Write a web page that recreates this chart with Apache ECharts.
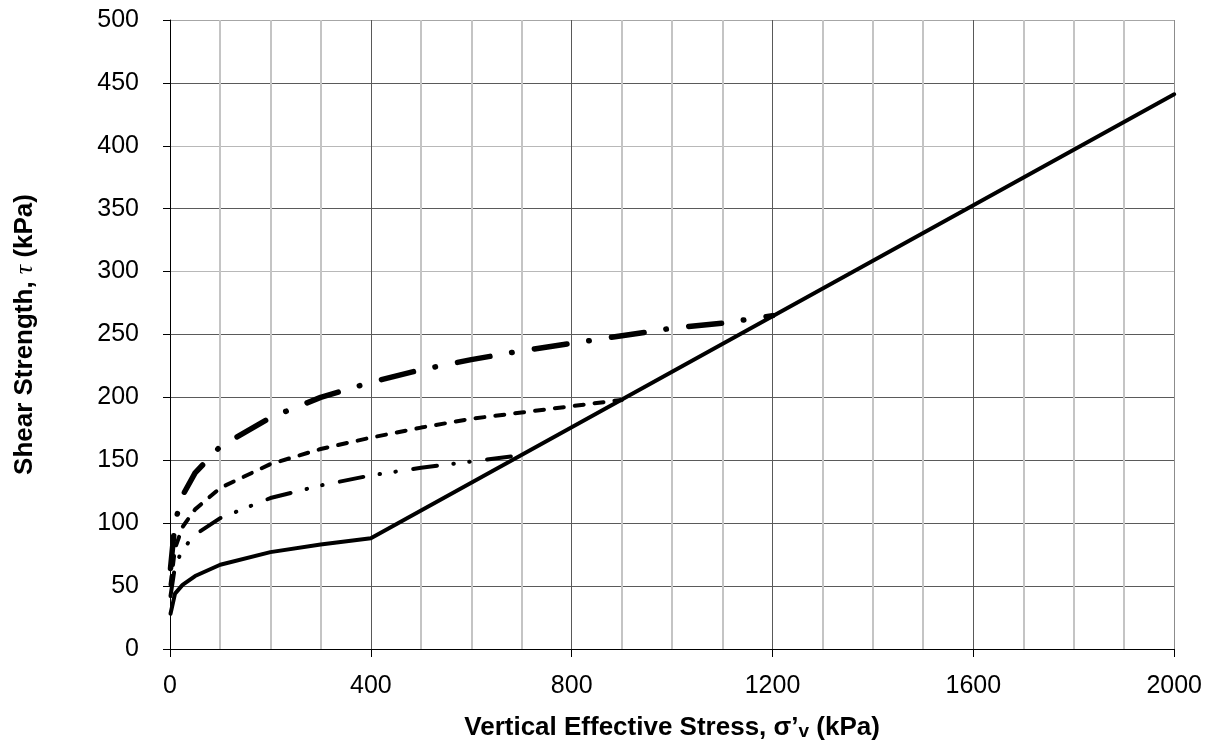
<!DOCTYPE html>
<html>
<head>
<meta charset="utf-8">
<script src="https://cdn.jsdelivr.net/npm/echarts@6/dist/echarts.min.js"></script>
<style>
html,body{margin:0;padding:0;background:#fff;}
#chart{width:1205px;height:746px;}
</style>
</head>
<body>
<div id="chart"></div>
<script>
// ---- data ----
const xTicks = [0, 400, 800, 1200, 1600, 2000];
const yTicks = [0, 50, 100, 150, 200, 250, 300, 350, 400, 450, 500];

// OCR curve, sigma'p = 400 kPa, continuing on the NC line to 2000 kPa (solid)
const sigma400 = [1, 10, 25, 50, 100, 200, 300, 400, 2000];
const tau400   = [28, 44, 51, 58, 67, 77, 83, 88, 441];

// sigma'p = 700 kPa (dash-dot-dot)
const sigma700 = [1, 10, 25, 50, 100, 200, 300, 400, 500, 600, 700];
const tau700   = [42, 66, 79, 91, 104, 120, 130, 138, 144, 149, 154];

// sigma'p = 900 kPa (short dash)
const sigma900 = [1, 10, 25, 50, 100, 200, 300, 400, 500, 600, 700, 800, 900];
const tau900   = [51, 80, 97, 111, 128, 147, 159, 168, 176, 183, 188, 193, 198];

// sigma'p = 1200 kPa (heavy long dash-dot)
const sigma1200 = [1, 10, 25, 50, 100, 200, 300, 400, 500, 600, 700, 800, 900, 1000, 1100, 1200];
const tau1200   = [64, 101, 122, 140, 161, 184, 200, 212, 222, 230, 237, 243, 249, 255, 259, 265];

function pairs(xs, ys) { return xs.map((x, i) => [x, ys[i]]); }

const FONT = '"Liberation Sans", Arial, sans-serif';
const chart = echarts.init(document.getElementById('chart'), null, {renderer: 'canvas'});

function lineSeries(name, xs, ys, width, dash) {
  return {
    name: name,
    type: 'line',
    data: pairs(xs, ys),
    showSymbol: false,
    symbol: 'none',
    smooth: false,
    animation: false,
    silent: true,
    lineStyle: { color: '#000', width: width, type: dash, cap: 'round', join: 'round' }
  };
}

chart.setOption({
  backgroundColor: '#fff',
  animation: false,
  grid: { left: 170, right: 30, top: 20, bottom: 91 },
  xAxis: {
    type: 'value',
    min: xTicks[0],
    max: xTicks[xTicks.length - 1],
    interval: xTicks[1] - xTicks[0],
    name: '{t|Vertical Effective Stress, σ’}{s|v}{t| (kPa)}',
    nameLocation: 'middle',
    nameGap: 60,
    nameTextStyle: {
      rich: {
        t: { fontFamily: FONT, fontWeight: 'bold', fontSize: 26, color: '#000', lineHeight: 32, verticalAlign: 'bottom' },
        s: { fontFamily: FONT, fontWeight: 'bold', fontSize: 19, color: '#000', lineHeight: 19, padding: [13, 0, 0, 0], verticalAlign: 'bottom' }
      }
    },
    axisLine: { show: true, lineStyle: { color: '#000', width: 1 } },
    axisTick: { show: true, inside: false, length: 8, lineStyle: { color: '#000', width: 1 } },
    axisLabel: { fontFamily: FONT, fontSize: 25, color: '#000', margin: 25, formatter: v => String(v) },
    splitLine: { show: true, lineStyle: { color: ['#595959', '#595959', '#595959', '#595959', '#595959', '#8c8c8c'], width: 1 } },
    minorTick: { show: false, splitNumber: 4 },
    minorSplitLine: { show: true, lineStyle: { color: '#c4c4c4', width: 2 } }
  },
  yAxis: {
    type: 'value',
    min: yTicks[0],
    max: yTicks[yTicks.length - 1],
    interval: yTicks[1] - yTicks[0],
    name: '{t|Shear Strength, }{g|τ}{t| (kPa)}',
    nameLocation: 'middle',
    nameGap: 132,
    nameTextStyle: {
      rich: {
        t: { fontFamily: FONT, fontWeight: 'bold', fontSize: 26, color: '#000' },
        g: { fontFamily: '"Liberation Serif", "DejaVu Serif", serif', fontStyle: 'italic', fontWeight: 'normal', fontSize: 26, color: '#000' }
      }
    },
    axisLine: { show: true, lineStyle: { color: '#000', width: 1 } },
    axisTick: { show: true, inside: false, length: 7, lineStyle: { color: '#000', width: 1 } },
    axisLabel: { fontFamily: FONT, fontSize: 25, color: '#000', margin: 31, formatter: v => String(v) },
    splitLine: {
      show: true,
      lineStyle: {
        color: ['#5a5a5a', '#5a5a5a', '#5a5a5a', '#5a5a5a', '#5a5a5a', '#5a5a5a',
                '#b8b8b8', '#5a5a5a', '#b8b8b8', '#5a5a5a', '#a6a6a6'],
        width: 1
      }
    }
  },
  series: [
    lineSeries('σ\'p = 1200 kPa', sigma1200, tau1200, 5.5, [33, 22, 0.5, 22.5]),
    lineSeries('σ\'p = 900 kPa', sigma900, tau900, 4, [9, 11]),
    lineSeries('σ\'p = 700 kPa', sigma700, tau700, 4, [24, 16.5, 0.5, 15.5, 0.5, 17.5]),
    lineSeries('σ\'p = 400 kPa', sigma400, tau400, 4, 'solid')
  ]
});
</script>
</body>
</html>
